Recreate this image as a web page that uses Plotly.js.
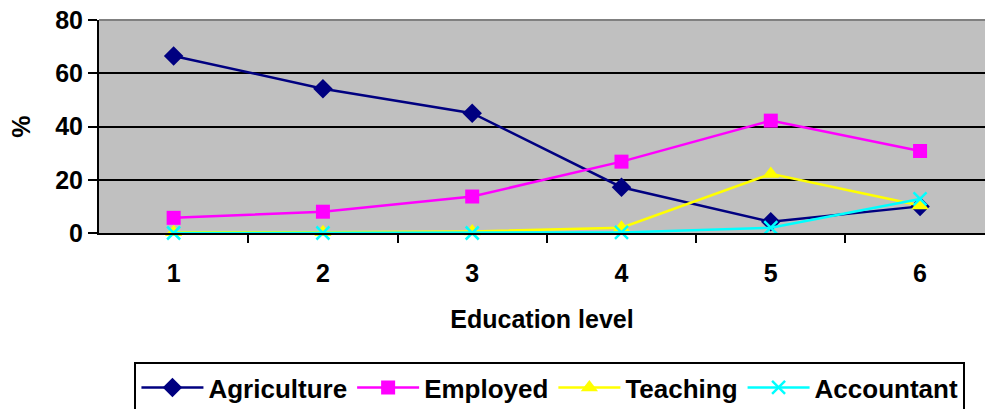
<!DOCTYPE html>
<html><head><meta charset="utf-8">
<script src="https://cdn.plot.ly/plotly-3.0.1.min.js"></script>
<style>body{margin:0;padding:0;background:#fff}#chart{width:985px;height:409px}</style>
</head><body><div id="chart"></div>
<script>
const educationLevels = [1, 2, 3, 4, 5, 6];
const agriculture = [66.5, 54.2, 45, 17.2, 4.2, 10];
const employed = [5.7, 8, 13.7, 26.8, 42.2, 30.8];
const teaching = [0.3, 0.3, 0.6, 2, 22.2, 10.3];
const accountant = [0, 0, 0, 0.2, 2, 12.8];
const yTicks = [0, 20, 40, 60, 80];
const xLabels = ['1', '2', '3', '4', '5', '6'];

const font = {family: 'Liberation Sans, Arial, sans-serif', color: '#000', weight: 'bold'};
function f(size) { return Object.assign({size: size}, font); }
function tr(name, y, color, symbol, size) {
  return {x: educationLevels, y: y, name: name, type: 'scatter', mode: 'lines+markers',
    line: {color: color, width: 2.5}, marker: {color: color, symbol: symbol, size: size,
    line: {color: color, width: symbol === 'x-thin' ? 2.5 : 0}}, cliponaxis: false};
}
const data = [
  tr('Agriculture', agriculture, '#000080', 'diamond', 15),
  tr('Employed', employed, '#FF00FF', 'square', 14),
  tr('Teaching', teaching, '#FFFF00', 'triangle-up', 15),
  tr('Accountant', accountant, '#00FFFF', 'x-thin', 13)
];
const midTicks = educationLevels.slice(0, -1).map(v => v + 0.5);
const layout = {
  width: 985, height: 409,
  margin: {l: 99, r: 0, t: 20, b: 176, autoexpand: false},
  paper_bgcolor: '#fff', plot_bgcolor: '#C0C0C0',
  showlegend: true,
  xaxis: {range: [0.5, 6.435], tickmode: 'array', tickvals: midTicks, ticktext: midTicks.map(() => ''),
    ticks: 'outside', ticklen: 8, tickwidth: 2, tickcolor: '#000', showgrid: false, zeroline: false,
    showline: true, linecolor: '#000', linewidth: 2, automargin: false},
  xaxis2: {overlaying: 'x', range: [0.5, 6.435], tickmode: 'array', tickvals: educationLevels, ticktext: xLabels,
    side: 'bottom', showgrid: false, zeroline: false, showline: false, automargin: false,
    ticks: 'outside', ticklen: 18, tickcolor: 'rgba(0,0,0,0)',
    tickfont: f(25),
    title: {text: 'Education level', font: f(25), standoff: 24}},
  yaxis: {range: [0, 80], tickmode: 'array', tickvals: yTicks, ticks: 'outside', ticklen: 9, tickwidth: 2,
    tickcolor: '#000', showgrid: true, gridcolor: '#000', gridwidth: 2, zeroline: false,
    showline: true, linecolor: '#000', linewidth: 2, automargin: false,
    tickfont: f(25),
    title: {text: '%', font: f(25), standoff: 17}},
  legend: {orientation: 'h', x: 0.04, y: -0.606, xanchor: 'left', yanchor: 'top',
    bordercolor: '#000', borderwidth: 2, bgcolor: '#fff',
    font: f(26), itemwidth: 62, tracegroupgap: 0},
  shapes: [{type: 'line', xref: 'paper', yref: 'paper', x0: 0, x1: 1, y0: 1, y1: 1,
    line: {color: '#808080', width: 2}}]
};
data.push({x: educationLevels, y: educationLevels.map(() => null), xaxis: 'x2', yaxis: 'y',
  showlegend: false, hoverinfo: 'skip', mode: 'markers'});
Plotly.newPlot('chart', data, layout, {displayModeBar: false, staticPlot: true});
</script></body></html>
